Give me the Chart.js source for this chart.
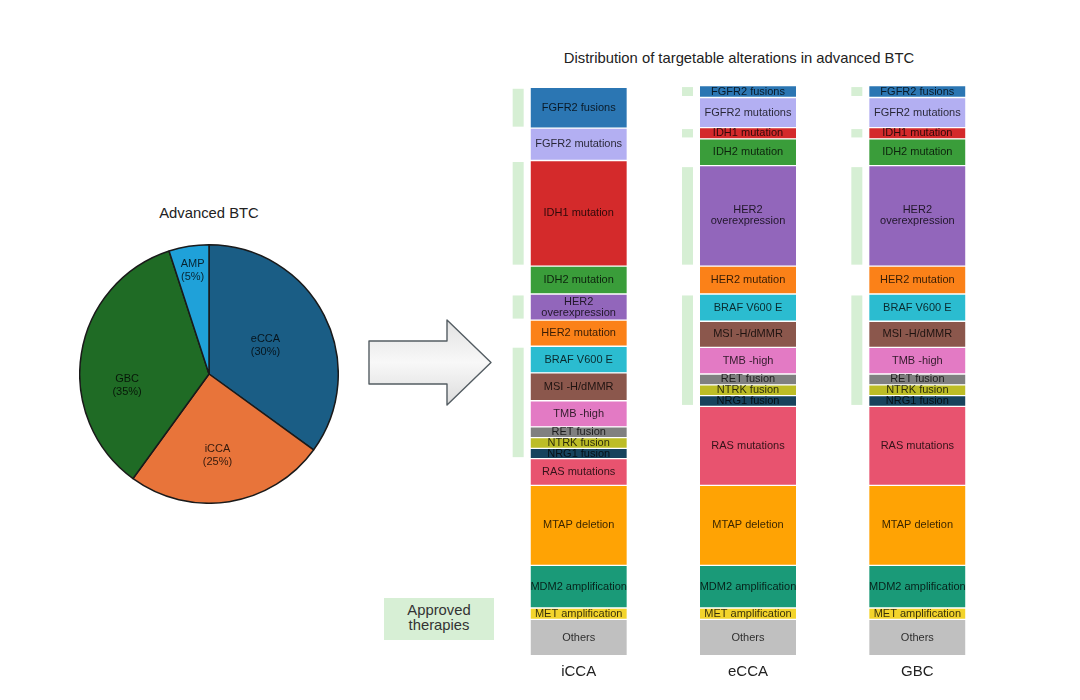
<!DOCTYPE html>
<html><head><meta charset="utf-8">
<script src="https://cdn.jsdelivr.net/npm/chart.js@4.4.1/dist/chart.umd.min.js"></script>
<style>
html,body{margin:0;padding:0;background:#fff;width:1080px;height:700px;overflow:hidden;font-family:"Liberation Sans",Arial,sans-serif;}
#pieWrap{position:absolute;left:79px;top:244px;width:260px;height:260px;}
#barWrap{position:absolute;left:494px;top:0;width:508px;height:700px;}
.txt{position:absolute;color:#222;font-size:14.8px;line-height:16px;white-space:nowrap;text-align:center;}
#legendBox{position:absolute;left:384px;top:598px;width:110px;height:42px;background:#d7efd5;color:#333;font-size:14.8px;line-height:15px;text-align:center;box-sizing:border-box;padding-top:5px;}
svg{position:absolute;left:0;top:0;}
</style></head><body>
<div class="txt" style="left:539px;width:400px;top:50px;">Distribution of targetable alterations in advanced BTC</div>
<div class="txt" style="left:109px;width:200px;top:205px;">Advanced BTC</div>
<svg width="1080" height="700">
  <defs>
    <linearGradient id="ag" x1="0" y1="0" x2="0" y2="1">
      <stop offset="0" stop-color="#e2e2e2"/>
      <stop offset="0.5" stop-color="#f8f8f8"/>
      <stop offset="1" stop-color="#dcdcdc"/>
    </linearGradient>
  </defs>
  <path d="M369 341 L447 341 L447 320 L491 362.5 L447 405 L447 384 L369 384 Z" fill="url(#ag)" stroke="#545d63" stroke-width="1.4" stroke-linejoin="round"/>
</svg>
<div id="legendBox">Approved<br>therapies</div>
<div id="pieWrap"><canvas id="pie" width="260" height="260"></canvas></div>
<div id="barWrap"><canvas id="bar" width="508" height="700"></canvas></div>
<script>
// ---------- data ----------
const pieGroups = ['eCCA', 'iCCA', 'GBC', 'AMP'];
const pieShares = [35, 25, 35, 5];          // slice sizes as drawn
const piePrinted = ['30%', '25%', '35%', '5%']; // percentages printed on slices

const columns = ['iCCA', 'eCCA', 'GBC'];
const alterations = ['FGFR2 fusions', 'FGFR2 mutations', 'IDH1 mutation', 'IDH2 mutation',
  'HER2 overexpression', 'HER2 mutation', 'BRAF V600 E', 'MSI -H/dMMR', 'TMB -high',
  'RET fusion', 'NTRK fusion', 'NRG1 fusion', 'RAS mutations', 'MTAP deletion',
  'MDM2 amplification', 'MET amplification', 'Others'];
const iccaShare = [7.2, 5.7, 18.6, 4.9, 4.6, 4.6, 4.7, 4.9, 4.6, 1.9, 1.9, 1.8, 4.7, 14.1, 7.5, 2.0, 6.4];
const eccaShare = [2.1, 5.3, 2.0, 4.7, 17.7, 4.9, 4.8, 4.6, 4.7, 1.9, 1.9, 1.9, 13.9, 14.1, 7.5, 2.0, 6.4];
const gbcShare  = [2.1, 5.3, 2.0, 4.7, 17.7, 4.9, 4.8, 4.6, 4.7, 1.9, 1.9, 1.9, 13.9, 14.1, 7.5, 2.0, 6.4];
const iccaApproved = [1, 0, 1, 0, 1, 0, 1, 1, 1, 1, 1, 1, 0, 0, 0, 0, 0];
const eccaApproved = [1, 0, 1, 0, 1, 0, 1, 1, 1, 1, 1, 1, 0, 0, 0, 0, 0];
const gbcApproved  = [1, 0, 1, 0, 1, 0, 1, 1, 1, 1, 1, 1, 0, 0, 0, 0, 0];

// ---------- styles ----------
const FONT = '"Liberation Sans", Arial, sans-serif';
const pieColors = ['#1a5d85', '#e8743a', '#1f6b25', '#1fa1d9'];
const pieLabelRadius = [0.49, 0.63, 0.64, 0.81];
const pieLabelAngleShift = [0, 3, -17, 0];
const alterationColors = ['#2b76b3', '#b3aff2', '#d42a2b', '#3a9d3a', '#9266bb', '#fb8118',
  '#2bbcd0', '#8b574c', '#e37ac4', '#808080', '#bdbd26', '#17435d', '#e8536f', '#ffa304',
  '#1a9a78', '#f3d42b', '#c0c0c0'];
const labelLines = {'HER2 overexpression': ['HER2', 'overexpression']};

// ---------- pie ----------
const pieLabelPlugin = {
  id: 'pieLabels',
  afterDatasetsDraw(chart) {
    const ctx = chart.ctx;
    const arcs = chart.getDatasetMeta(0).data;
    ctx.save();
    ctx.font = '11px ' + FONT;
    ctx.fillStyle = 'rgba(0,0,0,0.78)';
    ctx.textAlign = 'center';
    ctx.textBaseline = 'middle';
    arcs.forEach((a, i) => {
      const mid = (a.startAngle + a.endAngle) / 2 + pieLabelAngleShift[i] * Math.PI / 180;
      const r = a.outerRadius * pieLabelRadius[i];
      const x = a.x + Math.cos(mid) * r, y = a.y + Math.sin(mid) * r;
      ctx.fillText(pieGroups[i], x, y - 6.5);
      ctx.fillText('(' + piePrinted[i] + ')', x, y + 6.5);
    });
    ctx.restore();
  }
};
new Chart(document.getElementById('pie'), {
  type: 'pie',
  data: {labels: pieGroups, datasets: [{data: pieShares, backgroundColor: pieColors, borderColor: '#1a1a1a', borderWidth: 1.5}]},
  options: {
    responsive: false, animation: false, devicePixelRatio: 1,
    plugins: {legend: {display: false}, tooltip: {enabled: false}, title: {display: false}}
  },
  plugins: [pieLabelPlugin]
});

// ---------- stacked bars ----------
const shares = [iccaShare, eccaShare, gbcShare];
const approved = [iccaApproved, eccaApproved, gbcApproved];
const n = alterations.length;
const datasets = alterations.map((name, i) => ({
  label: name,
  data: shares.map(s => s[i]),
  backgroundColor: alterationColors[i],
  borderColor: '#ffffff',
  borderWidth: {top: 1, bottom: 1, left: 0, right: 0},
  borderSkipped: false,
  barThickness: 96,
  stack: 's'
})).reverse();

const segPlugin = {
  id: 'segments',
  beforeDatasetsDraw(chart) {
    const ctx = chart.ctx;
    ctx.save();
    ctx.fillStyle = '#d6efd4';
    approved.forEach((ap, col) => {
      let i = 0;
      while (i < n) {
        if (!ap[i]) { i++; continue; }
        let j = i;
        while (j + 1 < n && ap[j + 1]) j++;
        const tEl = chart.getDatasetMeta(n - 1 - i).data[col];
        const bEl = chart.getDatasetMeta(n - 1 - j).data[col];
        const top = Math.min(tEl.y, tEl.base);
        const bot = Math.max(bEl.y, bEl.base);
        const left = tEl.x - tEl.width / 2 - 18;
        ctx.fillRect(left, top + 1.5, 11, bot - top - 3);
        i = j + 1;
      }
    });
    ctx.restore();
  },
  afterDatasetsDraw(chart) {
    const ctx = chart.ctx;
    ctx.save();
    ctx.font = '11px ' + FONT;
    ctx.fillStyle = 'rgba(0,0,0,0.78)';
    ctx.textAlign = 'center';
    ctx.textBaseline = 'middle';
    alterations.forEach((name, i) => {
      const meta = chart.getDatasetMeta(n - 1 - i);
      meta.data.forEach(el => {
        const cy = (el.y + el.base) / 2;
        const lines = labelLines[name] || [name];
        const lh = 11;
        lines.forEach((t, k) => {
          ctx.fillText(t, el.x, cy + (k - (lines.length - 1) / 2) * lh);
        });
      });
    });
    ctx.restore();
  }
};

new Chart(document.getElementById('bar'), {
  type: 'bar',
  data: {labels: columns, datasets: datasets},
  options: {
    responsive: false, animation: false, devicePixelRatio: 1,
    layout: {padding: {top: 85, bottom: 11.3, left: 0, right: 0}},
    scales: {
      x: {stacked: true, grid: {display: false, drawTicks: false}, border: {display: false},
          ticks: {font: {size: 15, family: FONT}, color: '#222', padding: 7.5}},
      y: {stacked: true, display: false, min: 0, max: 100.5}
    },
    plugins: {legend: {display: false}, tooltip: {enabled: false}, title: {display: false}}
  },
  plugins: [segPlugin]
});
</script>
</body></html>
